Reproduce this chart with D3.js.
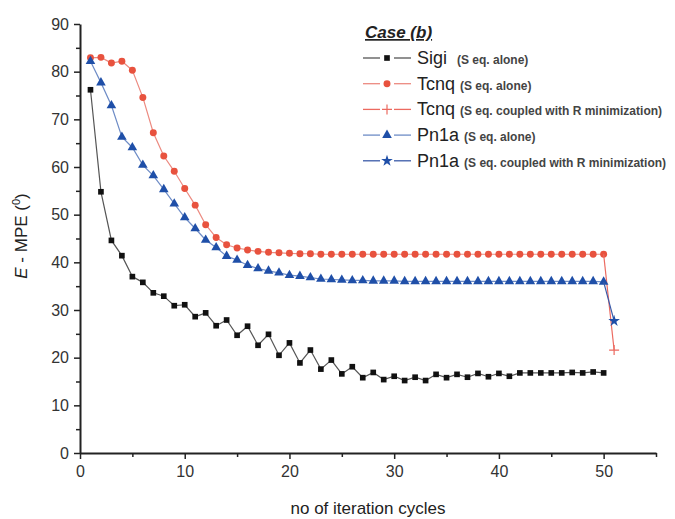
<!DOCTYPE html>
<html>
<head>
<meta charset="utf-8">
<script src="https://cdn.jsdelivr.net/npm/d3@7/dist/d3.min.js"></script>
<style>
    html, body { margin: 0; padding: 0; background: #fff; overflow: hidden; }
    svg { display: block; font-family: "Liberation Sans", Arial, sans-serif; }
</style>
</head>
<body>
<script>
/* data */

var cycles = d3.range(1, 51); // 1..50

var sigiAlone = [76.2, 54.8, 44.6, 41.4, 37.0, 35.8, 33.6, 32.9, 30.9, 31.1,
    28.6, 29.4, 26.7, 27.9, 24.7, 26.6, 22.6, 24.9, 20.5, 23.1,
    18.9, 21.6, 17.6, 19.5, 16.6, 18.1, 15.8, 16.9, 15.4, 16.1,
    15.2, 15.9, 15.2, 16.5, 15.8, 16.5, 15.9, 16.7, 16.0, 16.7,
    16.1, 16.8, 16.8, 16.8, 16.8, 16.8, 16.9, 16.8, 17.0, 16.8];

var tcnqAlone = [82.9, 83.0, 81.8, 82.2, 80.3, 74.6, 67.2, 62.3, 59.1, 55.5,
    52.0, 47.9, 45.2, 43.7, 43.0, 42.6, 42.3, 42.1, 42.0, 41.9,
    41.8, 41.8, 41.7, 41.7, 41.7, 41.7, 41.7, 41.7, 41.7, 41.7,
    41.7, 41.7, 41.7, 41.7, 41.7, 41.7, 41.7, 41.7, 41.7, 41.7,
    41.7, 41.7, 41.7, 41.7, 41.7, 41.7, 41.7, 41.7, 41.7, 41.7];

var pn1aAlone = [82.2, 77.7, 72.9, 66.3, 64.1, 60.4, 58.2, 55.3, 52.3, 49.4,
    47.1, 44.7, 43.1, 41.3, 40.5, 39.4, 38.7, 38.2, 37.8, 37.3,
    37.1, 36.8, 36.5, 36.4, 36.3, 36.2, 36.2, 36.1, 36.1, 36.1,
    36.0, 36.0, 36.0, 36.0, 36.0, 36.0, 36.0, 36.0, 36.0, 36.0,
    36.0, 36.0, 36.0, 36.0, 36.0, 36.0, 36.0, 36.0, 36.0, 35.9];

// coupled runs follow the "alone" runs, then split off at cycle 51
var coupledCycles = [50, 51];
var tcnqCoupled = [41.7, 21.6];
var pn1aCoupled = [35.9, 27.7];

var xTicks = [0, 10, 20, 30, 40, 50];
var yTicks = [0, 10, 20, 30, 40, 50, 60, 70, 80, 90];

var legendNames = ['Sigi', 'Tcnq', 'Tcnq', 'Pn1a', 'Pn1a'];
var legendNotes = ['(S eq. alone)', '(S eq. alone)', '(S eq. coupled with R minimization)',
    '(S eq. alone)', '(S eq. coupled with R minimization)'];

(function drawChart() {
    'use strict';

    var width = 675, height = 519;
    var margin = { left: 80, top: 24, right: 19, bottom: 66 };

    var svg = d3.select('body').append('svg')
        .attr('width', width)
        .attr('height', height)
    ;

    var x = d3.scaleLinear().domain([0, 55]).range([margin.left, width - margin.right]);
    var y = d3.scaleLinear().domain([0, 90]).range([height - margin.bottom, margin.top]);

    /* series styles */

    var plus = 'M-5,0H5M0,-5V5';
    var series = [
        { xs: cycles, ys: sigiAlone, line: '#555', fill: '#111', symbol: d3.symbolSquare, size: 32, from: 0 },
        { xs: cycles, ys: tcnqAlone, line: '#ec8a80', fill: '#e8523e', symbol: d3.symbolCircle, size: 38, from: 0 },
        { xs: coupledCycles, ys: tcnqCoupled, line: '#ec6a60', fill: 'none', stroke: '#ec6a60', path: plus, from: 1 },
        { xs: cycles, ys: pn1aAlone, line: '#6e8cc6', fill: '#1f4fa8', symbol: d3.symbolTriangle, size: 40, from: 0 },
        { xs: coupledCycles, ys: pn1aCoupled, line: '#3a5aa8', fill: '#1f4fa8', symbol: d3.symbolStar, size: 42, from: 1 }
    ];

    function markerPath(s) {
        return s.path ? s.path : d3.symbol().type(s.symbol).size(s.size)();
    }

    /* axes */

    var axisG = svg.append('g').attr('class', 'axes');

    // --- bottom axis
    axisG.append('g')
        .attr('transform', 'translate(0,' + y(0) + ')')
        .call(d3.axisBottom(x).tickValues(xTicks).tickSize(6).tickSizeOuter(0).tickPadding(7))
    ;
    axisG.append('g')
        .attr('transform', 'translate(0,' + y(0) + ')')
        .call(d3.axisBottom(x).tickValues(d3.range(5, 56, 10)).tickSize(4).tickSizeOuter(0).tickFormat(''))
        .select('.domain').remove()
    ;

    // --- left axis
    axisG.append('g')
        .attr('transform', 'translate(' + x(0) + ',0)')
        .call(d3.axisLeft(y).tickValues(yTicks).tickSize(6).tickSizeOuter(0).tickPadding(5))
    ;
    axisG.append('g')
        .attr('transform', 'translate(' + x(0) + ',0)')
        .call(d3.axisLeft(y).tickValues(d3.range(5, 90, 10)).tickSize(4).tickSizeOuter(0).tickFormat(''))
        .select('.domain').remove()
    ;

    axisG.selectAll('.domain').attr('stroke', '#222').attr('stroke-width', 2);
    axisG.selectAll('.tick line').attr('stroke', '#222').attr('stroke-width', 1.5);
    axisG.selectAll('.tick text')
        .attr('font-size', 16)
        .attr('fill', '#333')
        .attr('font-family', '"Liberation Sans", Arial, sans-serif')
    ;

    /* axis titles */

    svg.append('text')
        .attr('x', (x(0) + x(55)) / 2)
        .attr('y', 514)
        .attr('text-anchor', 'middle')
        .attr('font-size', 17)
        .attr('fill', '#222')
        .text('no of iteration cycles')
    ;

    var yTitle = svg.append('text')
        .attr('transform', 'translate(27,' + 236 + ') rotate(-90)')
        .attr('text-anchor', 'middle')
        .attr('font-size', 17)
        .attr('fill', '#222')
    ;
    yTitle.append('tspan').attr('font-style', 'italic').text('E');
    yTitle.append('tspan').text(' - MPE (');
    yTitle.append('tspan').attr('font-size', 11).attr('dy', -7).text('0');
    yTitle.append('tspan').attr('dy', 7).text(')');

    /* lines and markers */

    var line = d3.line()
        .x(function (d) { return x(d[0]); })
        .y(function (d) { return y(d[1]); })
    ;

    series.forEach(function (s) {
        var pts = s.xs.map(function (c, i) { return [c, s.ys[i]]; });

        svg.append('path')
            .datum(pts)
            .attr('d', line)
            .attr('fill', 'none')
            .attr('stroke', s.line)
            .attr('stroke-width', 1.2)
        ;

        svg.append('g').selectAll('path')
            .data(pts.slice(s.from))
            .enter()
            .append('path')
            .attr('transform', function (d) { return 'translate(' + x(d[0]) + ',' + y(d[1]) + ')'; })
            .attr('d', markerPath(s))
            .attr('fill', s.fill)
            .attr('stroke', s.stroke || 'none')
            .attr('stroke-width', 1.2)
        ;
    });

    /* legend */

    var legend = svg.append('g').attr('class', 'legend');

    legend.append('text')
        .attr('x', 365)
        .attr('y', 38)
        .attr('font-size', 17)
        .attr('font-weight', 'bold')
        .attr('font-style', 'italic')
        .attr('text-decoration', 'underline')
        .attr('fill', '#222')
        .text('Case (b)')
    ;

    var rows = legend.selectAll('g.row')
        .data(series)
        .enter()
        .append('g')
        .attr('class', 'row')
        .attr('transform', function (d, i) { return 'translate(0,' + (58 + i * 25.7) + ')'; })
    ;

    rows.append('line')
        .attr('x1', 363).attr('x2', 380)
        .attr('stroke', function (d) { return d.line; })
        .attr('stroke-width', 1.3)
    ;
    rows.append('line')
        .attr('x1', 394).attr('x2', 411)
        .attr('stroke', function (d) { return d.line; })
        .attr('stroke-width', 1.3)
    ;
    rows.append('path')
        .attr('transform', 'translate(387,0)')
        .attr('d', function (d) { return markerPath(d); })
        .attr('fill', function (d) { return d.fill; })
        .attr('stroke', function (d) { return d.stroke || 'none'; })
        .attr('stroke-width', 1.2)
    ;

    var labels = rows.append('text')
        .attr('x', 417)
        .attr('y', 6)
        .attr('fill', '#222')
    ;
    labels.append('tspan')
        .attr('font-size', 18)
        .text(function (d, i) { return legendNames[i]; })
    ;
    labels.append('tspan')
        .attr('font-size', 12)
        .attr('font-weight', 'bold')
        .attr('fill', '#444')
        .attr('dx', function (d, i) { return i === 0 ? 10 : 5; })
        .text(function (d, i) { return legendNotes[i]; })
    ;
})();
</script>
</body>
</html>
